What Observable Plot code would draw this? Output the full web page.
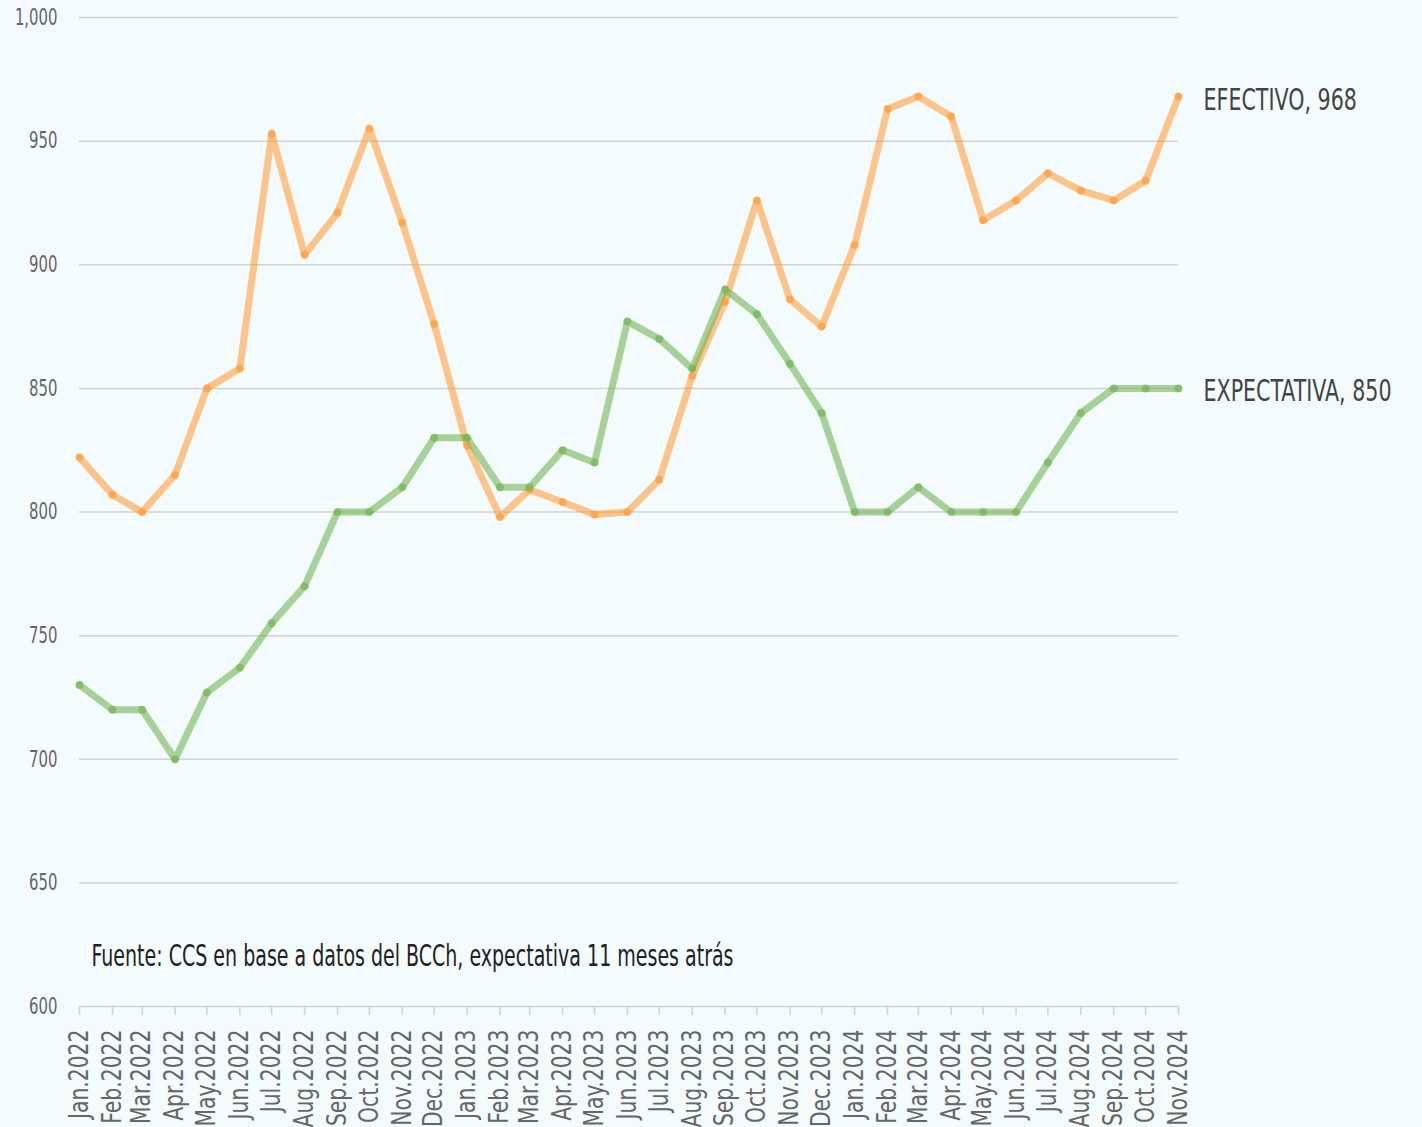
<!DOCTYPE html>
<html>
<head>
<meta charset="utf-8">
<script src="https://cdn.jsdelivr.net/npm/d3@7"></script>
<script src="https://cdn.jsdelivr.net/npm/@observablehq/plot@0.6"></script>
<style>
  html, body { margin: 0; padding: 0; background: #f4fbfd; }
  #chart svg { display: block; background: #f4fbfd; }
</style>
</head>
<body>
<div id="chart"></div>
<script>
const months = ["Jan.2022","Feb.2022","Mar.2022","Apr.2022","May.2022","Jun.2022","Jul.2022","Aug.2022","Sep.2022","Oct.2022","Nov.2022","Dec.2022",
  "Jan.2023","Feb.2023","Mar.2023","Apr.2023","May.2023","Jun.2023","Jul.2023","Aug.2023","Sep.2023","Oct.2023","Nov.2023","Dec.2023",
  "Jan.2024","Feb.2024","Mar.2024","Apr.2024","May.2024","Jun.2024","Jul.2024","Aug.2024","Sep.2024","Oct.2024","Nov.2024"];
const efectivo = [822,807,800,815,850,858,953,904,921,955,917,876,
  827,798,809,804,799,800,813,855,885,926,886,875,
  908,963,968,960,918,926,937,930,926,934,968];
const expectativa = [730,720,720,700,727,737,755,770,800,800,810,830,
  830,810,810,825,820,877,870,858,890,880,860,840,
  800,800,810,800,800,800,820,840,850,850,850];
const yTicks = [600,650,700,750,800,850,900,950,1000];
const seriesNames = ["EFECTIVO","EXPECTATIVA"];
const seriesColors = ["#ff9a33","#6fb24f"];
const caption = "Fuente: CCS en base a datos del BCCh, expectativa 11 meses atrás";

const monthNum = {Jan:0,Feb:1,Mar:2,Apr:3,May:4,Jun:5,Jul:6,Aug:7,Sep:8,Oct:9,Nov:10,Dec:11};
const dates = months.map(m => { const [mm, yy] = m.split("."); return new Date(Date.UTC(+yy, monthNum[mm], 1)); });
const labelOf = new Map(dates.map((d, i) => [+d, months[i]]));

const rows = [];
[efectivo, expectativa].forEach((vals, s) => vals.forEach((v, i) => rows.push({date: dates[i], value: v, series: seriesNames[s]})));
const last = seriesNames.map((name, s) => ({date: dates[dates.length - 1], value: [efectivo, expectativa][s].at(-1), series: name}));

const font = "'DejaVu Sans Condensed', 'Liberation Sans Narrow', sans-serif";

const chart = Plot.plot({
  width: 1422,
  height: 1127,
  marginLeft: 79,
  marginRight: 244,
  marginTop: 17,
  marginBottom: 121,
  style: {background: "#f4fbfd", fontFamily: font, color: "#666"},
  x: {type: "utc", domain: [dates[0], dates[dates.length - 1]]},
  y: {domain: [600, 1000]},
  color: {domain: seriesNames, range: seriesColors},
  marks: [
    Plot.gridY(yTicks, {stroke: "#d2d2d2", strokeOpacity: 1, strokeWidth: 1.5}),
    Plot.axisY(yTicks, {tickSize: 0, tickPadding: 22, tickFormat: d3.format(","), fontSize: 23, fill: "#666", label: null, className: "ylab"}),
    Plot.axisX(dates, {tickSize: 9, stroke: "#d2d2d2", strokeWidth: 1.5, tickPadding: 14, tickRotate: -90, fontSize: 26, fill: "#666",
      tickFormat: d => labelOf.get(+d), label: null, className: "xlab"}),
    Plot.line(rows, {x: "date", y: "value", z: "series", stroke: "series", strokeWidth: 7, strokeOpacity: 0.57, strokeLinejoin: "round", strokeLinecap: "round"}),
    Plot.dot(rows, {x: "date", y: "value", fill: "series", r: 4, fillOpacity: 0.65}),
    Plot.text(last, {x: "date", y: "value", text: d => `${d.series}, ${d.value}`, dx: 25, dy: 3, textAnchor: "start", fontSize: 31, fill: "#444", className: "endlab"}),
    Plot.text([caption], {frameAnchor: "bottom-left", dx: 12, dy: -41, fontSize: 30, fill: "#222", className: "caplab"})
  ]
});
document.getElementById("chart").appendChild(chart);

// emulate the condensed typeface of the reference by narrowing the glyphs along the text direction
const svgNS = "http://www.w3.org/2000/svg";
const squeeze = {ylab: [0.72, "end"], xlab: [0.87, "top"], endlab: [0.74, "start"], caplab: [0.705, "start"]};
const base = chart.getBoundingClientRect();
const items = [];
chart.querySelectorAll("text").forEach(t => {
  let spec = null;
  for (const k in squeeze) if (t.closest("." + k)) spec = squeeze[k];
  if (!spec) return;
  const r = t.getBoundingClientRect();
  items.push({t, spec, r});
});
items.forEach(({t, spec, r}) => {
  const [f, mode] = spec;
  const inv = t.parentNode.getCTM().inverse();
  const px = mode === "end" ? r.right - base.left : r.left - base.left;
  const py = r.top - base.top;
  const p = new DOMPoint(px, py).matrixTransform(inv);
  let tr;
  if (mode === "top") tr = `translate(0,${p.y}) scale(1,${f}) translate(0,${-p.y})`;
  else tr = `translate(${p.x},0) scale(${f},1) translate(${-p.x},0)`;
  const g = document.createElementNS(svgNS, "g");
  g.setAttribute("transform", tr);
  t.parentNode.insertBefore(g, t);
  g.appendChild(t);
});
</script>
</body>
</html>
